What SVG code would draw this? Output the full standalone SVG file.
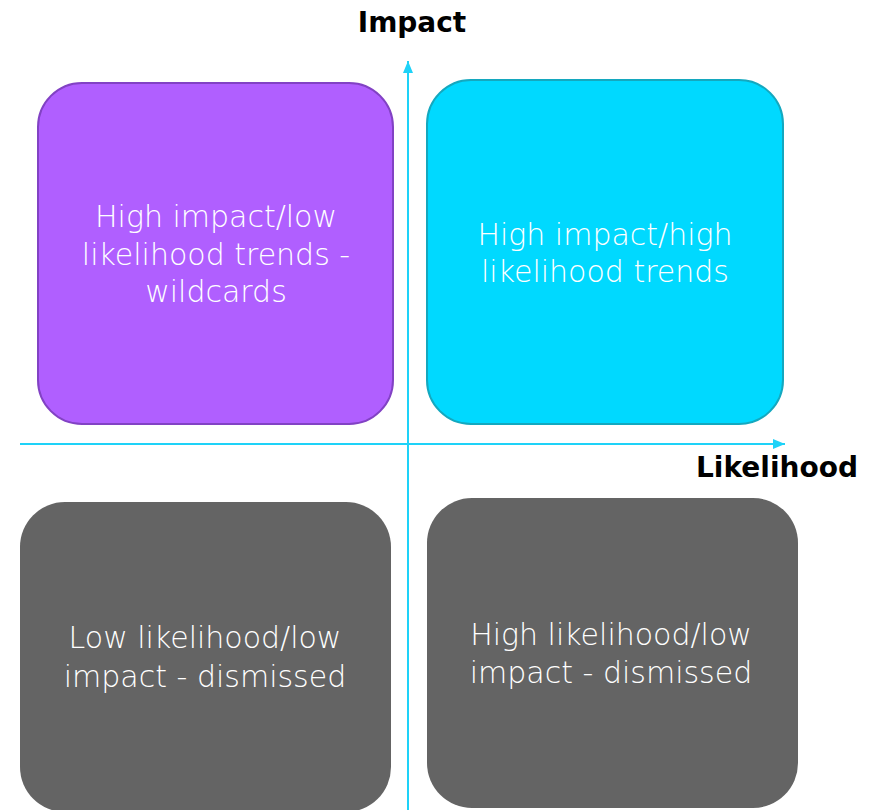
<svg xmlns="http://www.w3.org/2000/svg" width="879" height="810" viewBox="0 0 879 810">
<style>
.box-text{font-family:"DejaVu Sans","Liberation Sans",sans-serif;font-weight:200;font-size:30px;fill:#ffffff;text-anchor:middle}
.axis-label{font-family:"DejaVu Sans","Liberation Sans",sans-serif;font-weight:bold;font-size:28px;fill:#000000;text-anchor:middle}
.axis{stroke:#1ED2F8;stroke-width:2;fill:none}
</style>
<defs>
<marker id="arrow" viewBox="0 0 12 10" refX="12" refY="5" markerWidth="12" markerHeight="10" markerUnits="userSpaceOnUse" orient="auto">
<path d="M0,0 L12,5 L0,10 Z" fill="#1ED2F8"/>
</marker>
</defs>
<rect width="879" height="810" fill="#ffffff"/>
<g id="connectors">
<line class="axis" x1="408" y1="810" x2="408" y2="61" marker-end="url(#arrow)"/>
<line class="axis" x1="20" y1="444" x2="785" y2="444" marker-end="url(#arrow)"/>
</g>
<g id="node-high-impact-low-likelihood">
<rect x="38" y="83" width="355" height="341" rx="44" ry="44" fill="#B05FFF" stroke="#8242C4" stroke-width="2"/>
<text class="box-text" x="216" y="227">High impact/low</text>
<text class="box-text" x="216" y="265">likelihood trends -</text>
<text class="box-text" x="216" y="302">wildcards</text>
</g>
<g id="node-high-impact-high-likelihood">
<rect x="427" y="80" width="356" height="344" rx="44" ry="44" fill="#00D9FF" stroke="#14A8BF" stroke-width="2"/>
<text class="box-text" x="605" y="245">High impact/high</text>
<text class="box-text" x="605" y="282">likelihood trends</text>
</g>
<g id="node-low-likelihood-low-impact">
<rect x="20" y="502" width="371" height="310" rx="45" ry="45" fill="#646464"/>
<text class="box-text" x="205" y="648">Low likelihood/low</text>
<text class="box-text" x="205" y="687">impact - dismissed</text>
</g>
<g id="node-high-likelihood-low-impact">
<rect x="427" y="498" width="371" height="310" rx="45" ry="45" fill="#646464"/>
<text class="box-text" x="611" y="645">High likelihood/low</text>
<text class="box-text" x="611" y="683">impact - dismissed</text>
</g>
<g id="label-impact">
<text class="axis-label" x="412" y="32">Impact</text>
</g>
<g id="label-likelihood">
<text class="axis-label" x="777" y="477">Likelihood</text>
</g>
</svg>
